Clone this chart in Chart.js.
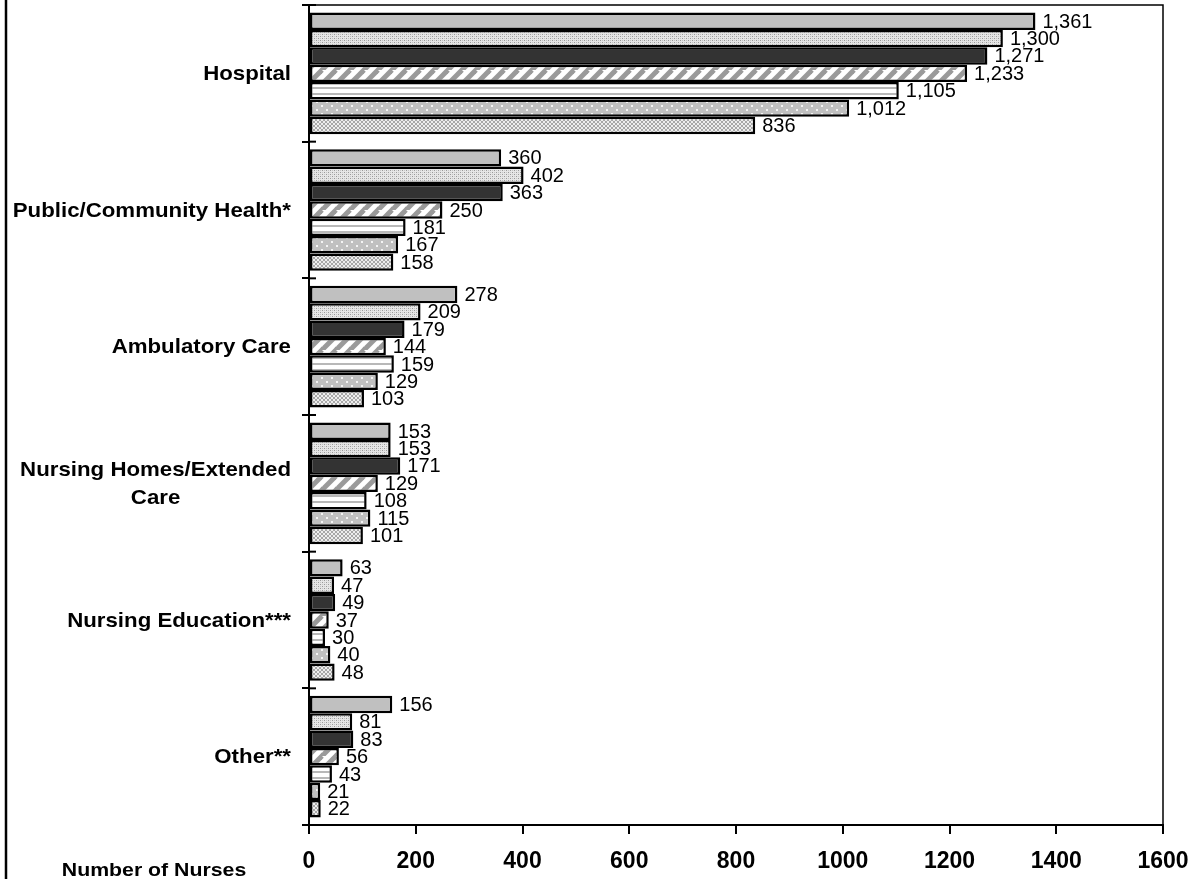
<!DOCTYPE html>
<html>
<head>
<meta charset="utf-8">
<script src="https://cdn.jsdelivr.net/npm/chart.js@4.4.1/dist/chart.umd.min.js"></script>
<style>
  html, body { margin: 0; padding: 0; background: #fff; }
  #wrap { width: 1196px; height: 879px; }
</style>
</head>
<body>
<div id="wrap"><canvas id="chart" width="1196" height="879"></canvas></div>
<script>
// categories (multi-line labels as arrays)
const categories = [
    ["Hospital"],
    ["Public/Community Health*"],
    ["Ambulatory Care"],
    ["Nursing Homes/Extended", "Care"],
    ["Nursing Education***"],
    ["Other**"]
];
const seriesNames = ["Series 1", "Series 2", "Series 3", "Series 4", "Series 5", "Series 6", "Series 7"];
const series1 = [1361, 360, 278, 153, 63, 156];
const series2 = [1300, 402, 209, 153, 47, 81];
const series3 = [1271, 363, 179, 171, 49, 83];
const series4 = [1233, 250, 144, 129, 37, 56];
const series5 = [1105, 181, 159, 108, 30, 43];
const series6 = [1012, 167, 129, 115, 40, 21];
const series7 = [836, 158, 103, 101, 48, 22];
const xTicks = [0, 200, 400, 600, 800, 1000, 1200, 1400, 1600];
const xTitle = "Number of Nurses";

const FONT = '"Liberation Sans", Arial, sans-serif';

const canvas = document.getElementById("chart");
const ctx = canvas.getContext("2d");

// small tile patterns for the bar fills
const makeTile = (w, h, draw) => {
    const c = document.createElement("canvas");
    c.width = w; c.height = h;
    const t = c.getContext("2d");
    draw(t);
    return ctx.createPattern(c, "repeat");
};

const patSolidLight = "#c0c0c0";
const patFineDots = makeTile(4, 4, t => {
    t.fillStyle = "#e6e6e6"; t.fillRect(0, 0, 4, 4);
    t.fillStyle = "#999999"; t.fillRect(0, 0, 1, 1); t.fillRect(2, 2, 1, 1);
    t.fillStyle = "#c4c4c4"; t.fillRect(2, 0, 1, 1); t.fillRect(0, 2, 1, 1);
});
const patDark = "#333333";
const patDiagonal = makeTile(14, 14, t => {
    t.fillStyle = "#ffffff"; t.fillRect(0, 0, 14, 14);
    t.strokeStyle = "#9a9a9a"; t.lineWidth = 5;
    [[-14, 14, 0, 0], [0, 14, 14, 0], [14, 14, 28, 0], [0, 28, 28, 0], [-14, 0, 0, -14]].forEach(([a, b, c, d]) => {
        t.beginPath(); t.moveTo(a, b); t.lineTo(c, d); t.stroke();
    });
});
const patHorizontal = makeTile(4, 6, t => {
    t.fillStyle = "#ffffff"; t.fillRect(0, 0, 4, 6);
    t.fillStyle = "#b8b8b8"; t.fillRect(0, 3, 4, 2);
});
const patGrayDots = makeTile(10, 8, t => {
    t.fillStyle = "#c0c0c0"; t.fillRect(0, 0, 10, 8);
    t.fillStyle = "#f4f4f4"; t.fillRect(1, 1, 2, 2); t.fillRect(6, 5, 2, 2);
});
const patCross = makeTile(4, 4, t => {
    t.fillStyle = "#eeeeee"; t.fillRect(0, 0, 4, 4);
    t.fillStyle = "#a8a8a8";
    for (let i = 0; i < 4; i++) { t.fillRect(i, i, 1, 1); t.fillRect(i, 3 - i, 1, 1); }
});

const fills = [patSolidLight, patFineDots, patDark, patDiagonal, patHorizontal, patGrayDots, patCross];
const allSeries = [series1, series2, series3, series4, series5, series6, series7];

// text drawn a little wider, like in the picture
const stretchText = (c, text, x, y, align, sx) => {
    c.save();
    c.translate(x, y);
    c.scale(sx, 1);
    c.textAlign = align;
    c.fillText(text, 0, 0);
    c.restore();
};

// texts, frame lines and inner tick marks
const decorPlugin = {
    id: "decor",
    afterDraw(chart) {
        const c = chart.ctx;
        const area = chart.chartArea;
        const xs = chart.scales.x;
        const ys = chart.scales.y;
        c.save();
        c.strokeStyle = "#000";

        // outer left line
        c.lineWidth = 2.5;
        c.beginPath(); c.moveTo(6, 0); c.lineTo(6, 879); c.stroke();

        // top and right border of the plot
        c.lineWidth = 1.5;
        c.beginPath();
        c.moveTo(area.left, area.top); c.lineTo(area.right, area.top); c.lineTo(area.right, area.bottom);
        c.stroke();

        // inner halves of the category ticks
        c.lineWidth = 2;
        for (let i = 0; i <= categories.length; i++) {
            const y = ys.getPixelForValue(i - 0.5);
            c.beginPath(); c.moveTo(area.left, y); c.lineTo(area.left + 7, y); c.stroke();
        }

        c.fillStyle = "#000";
        c.textBaseline = "middle";

        // value labels
        c.font = "20px " + FONT;
        chart.data.datasets.forEach((ds, di) => {
            chart.getDatasetMeta(di).data.forEach((bar, i) => {
                stretchText(c, ds.data[i].toLocaleString("en-US"), bar.x + 7, bar.y + 1, "left", 1);
            });
        });

        // category labels, lines centred on each other, block right-aligned
        const sx = 1.06;
        c.font = "bold 21px " + FONT;
        categories.forEach((lines, i) => {
            const cy = ys.getPixelForValue(i);
            const maxW = Math.max(...lines.map(l => c.measureText(l).width * sx));
            const cx = 291 - maxW / 2;
            const lh = 28;
            lines.forEach((l, k) => {
                stretchText(c, l, cx, cy + (k - (lines.length - 1) / 2) * lh + 1, "center", sx);
            });
        });

        // x tick labels
        c.font = "bold 23px " + FONT;
        xTicks.forEach(v => stretchText(c, String(v), xs.getPixelForValue(v), 862, "center", 1));

        // axis title
        c.font = "bold 19px " + FONT;
        stretchText(c, xTitle, 154, 871, "center", 1.12);
        c.restore();
    }
};

new Chart(canvas, {
    type: "bar",
    data: {
        labels: categories,
        datasets: allSeries.map((d, i) => ({
            label: seriesNames[i],
            data: d,
            backgroundColor: fills[i],
            borderColor: "#000",
            borderWidth: 2.5,
            borderSkipped: false,
            categoryPercentage: 0.89,
            barPercentage: 1.0
        }))
    },
    options: {
        indexAxis: "y",
        responsive: false,
        animation: false,
        layout: { padding: { top: 5, right: 33, left: 0, bottom: 0 } },
        plugins: {
            legend: { display: false },
            tooltip: { enabled: false }
        },
        scales: {
            x: {
                min: 0,
                max: 1600,
                ticks: { display: false, stepSize: 200 },
                grid: { display: true, drawOnChartArea: false, drawTicks: true, tickLength: 9, color: "#000", lineWidth: 2 },
                border: { display: true, color: "#000", width: 2 },
                afterFit: scale => { scale.height = 54; }
            },
            y: {
                ticks: { display: false },
                grid: { display: true, drawOnChartArea: false, drawTicks: true, tickLength: 7, color: "#000", lineWidth: 2 },
                border: { display: true, color: "#000", width: 2 },
                afterFit: scale => { scale.width = 309; }
            }
        }
    },
    plugins: [decorPlugin]
});
</script>
</body>
</html>
